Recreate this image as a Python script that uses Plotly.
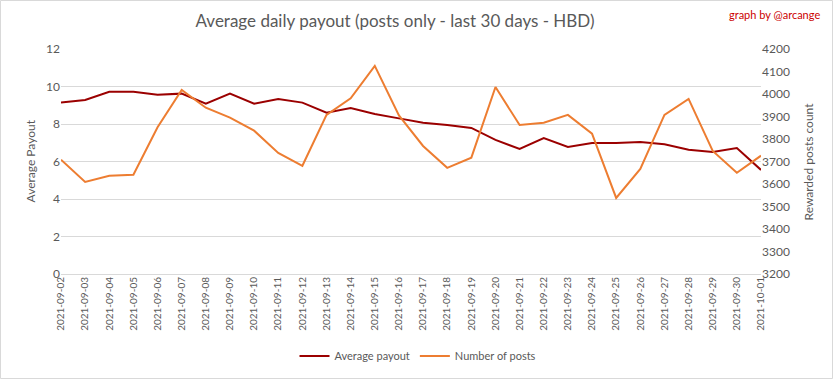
import plotly.graph_objects as go

dates = ["2021-09-02","2021-09-03","2021-09-04","2021-09-05","2021-09-06","2021-09-07",
         "2021-09-08","2021-09-09","2021-09-10","2021-09-11","2021-09-12","2021-09-13",
         "2021-09-14","2021-09-15","2021-09-16","2021-09-17","2021-09-18","2021-09-19",
         "2021-09-20","2021-09-21","2021-09-22","2021-09-23","2021-09-24","2021-09-25",
         "2021-09-26","2021-09-27","2021-09-28","2021-09-29","2021-09-30","2021-10-01"]

avg_payout = [9.14, 9.28, 9.72, 9.72, 9.56, 9.62, 9.08, 9.62, 9.08, 9.33,
              9.14, 8.60, 8.85, 8.53, 8.30, 8.07, 7.95, 7.79, 7.15, 6.67,
              7.25, 6.77, 6.99, 6.99, 7.04, 6.92, 6.63, 6.51, 6.72, 5.55]

num_posts = [3708, 3609, 3637, 3641, 3852, 4018, 3939, 3895, 3837, 3738,
             3681, 3907, 3981, 4125, 3905, 3769, 3672, 3717, 4031, 3862,
             3872, 3907, 3824, 3538, 3667, 3907, 3978, 3747, 3650, 3726]

FONT = "Lato"
GREY = "#595959"

fig = go.Figure()
fig.add_trace(go.Scatter(x=dates, y=avg_payout, name="Average payout", mode="lines",
                         line=dict(color="#9B0000", width=2), yaxis="y"))
fig.add_trace(go.Scatter(x=dates, y=num_posts, name="Number of posts", mode="lines",
                         line=dict(color="#ED7D31", width=2), yaxis="y2"))

W, H = 833, 379
ml, mr, mt, mb = 61, 72, 49, 105
pw, ph = W - ml - mr, H - mt - mb

fig.update_layout(
    width=W, height=H,
    margin=dict(l=ml, r=mr, t=mt, b=mb, autoexpand=False),
    paper_bgcolor="white", plot_bgcolor="white",
    font=dict(family=FONT, color=GREY, size=11),
    title=dict(text="Average daily payout (posts only - last 30 days - HBD)",
               x=(395 - ml) / pw, xref="paper", xanchor="center",
               y=1 - 21 / H, yanchor="middle",
               font=dict(family=FONT, size=17, color=GREY)),
    xaxis=dict(type="category", tickangle=-90, showgrid=False, showline=False,
               ticks="", automargin=False, tickfont=dict(size=10, color=GREY)),
    yaxis=dict(range=[0, 12], dtick=2, showgrid=True, gridcolor="#D9D9D9", gridwidth=1,
               zeroline=True, zerolinecolor="#D9D9D9", zerolinewidth=1,
               showline=False, ticks="", automargin=False,
               tickfont=dict(size=12, color=GREY)),
    yaxis2=dict(range=[3200, 4200], dtick=100, overlaying="y", side="right",
                showgrid=False, zeroline=False, showline=False, ticks="",
                automargin=False, tickfont=dict(size=12, color=GREY)),
    showlegend=True,
    legend=dict(orientation="h", x=(418 - ml) / pw, xanchor="center",
                y=(274 - 356) / ph, yanchor="middle",
                font=dict(size=11, color=GREY), itemwidth=30,
                bgcolor="rgba(0,0,0,0)"),
    annotations=[
        dict(text="Average Payout", xref="paper", yref="paper",
             x=(30 - ml) / pw, y=0.5, textangle=-90, showarrow=False,
             xanchor="center", yanchor="middle",
             font=dict(family=FONT, size=12, color=GREY)),
        dict(text="Rewarded posts count", xref="paper", yref="paper",
             x=(808 - ml) / pw, y=0.5, textangle=-90, showarrow=False,
             xanchor="center", yanchor="middle",
             font=dict(family=FONT, size=12, color=GREY)),
        dict(text="graph by @arcange", xref="paper", yref="paper",
             x=(822 - ml) / pw, y=1 + (mt - 15) / ph, showarrow=False,
             xanchor="right", yanchor="middle",
             font=dict(family=FONT, size=11, color="#CC0000")),
    ],
    shapes=[
        dict(type="rect", xref="paper", yref="paper",
             x0=-(ml - 0.5) / pw, x1=1 + (mr - 0.5) / pw,
             y0=-(mb - 0.5) / ph, y1=1 + (mt - 0.5) / ph,
             line=dict(color="#D9D9D9", width=1), fillcolor="rgba(0,0,0,0)"),
    ],
)

fig.write_html("out.html", config={"displayModeBar": False},
               post_script="document.body.style.margin='0';document.body.style.overflow='hidden';")
